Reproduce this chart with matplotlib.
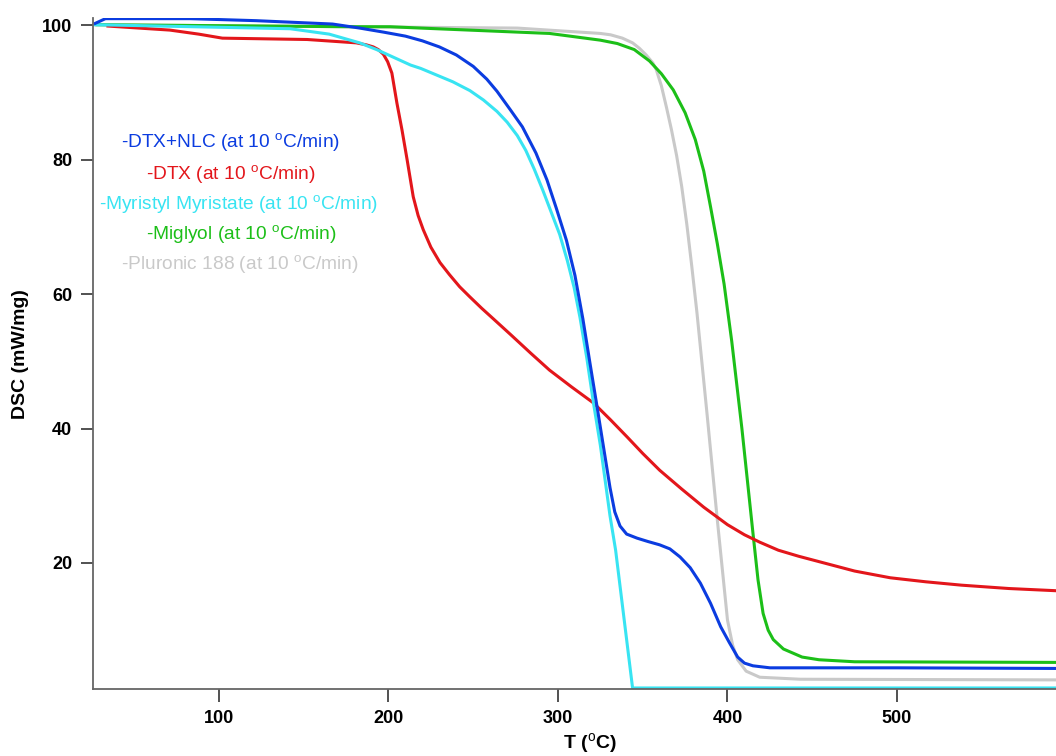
import matplotlib
matplotlib.use('Agg')
import matplotlib.pyplot as plt

plt.rcParams['font.family'] = ['Liberation Sans', 'DejaVu Sans']
plt.rcParams['mathtext.fontset'] = 'custom'
plt.rcParams['mathtext.rm'] = 'Liberation Sans'

# curves (T in degC, signal)
t_nlc = [27, 33, 83, 122, 167, 183, 197, 210, 220, 230, 240, 250, 258, 264, 272, 279,
         287, 293.5, 299, 305, 310, 314.7, 318.7, 322.7, 326.7, 330.7, 333.5, 336.6, 340.5,
         346.6, 353, 360, 366, 372, 378, 384, 390, 396, 401, 406, 410, 415, 425, 500, 600]
v_nlc = [100.3, 101.0, 101.0, 100.7, 100.2, 99.6, 99.0, 98.4, 97.7, 96.8, 95.6, 93.9, 92.0,
         90.2, 87.4, 84.9, 81.0, 77.0, 72.8, 68.0, 62.8, 56.3, 50.0, 43.8, 37.5, 31.2, 27.6,
         25.5, 24.3, 23.7, 23.2, 22.7, 22.1, 20.9, 19.3, 17.0, 14.0, 10.5, 8.2, 6.0, 5.1,
         4.7, 4.4, 4.4, 4.3]

t_dtx = [34.5, 71, 88, 102, 152, 181, 187, 191, 194, 197, 199.5, 202, 205, 208, 211, 214.6,
         217.5, 220.5, 225, 230.4, 236, 242, 248, 255, 262, 272, 284, 295, 308, 321, 331,
         341, 350, 360, 373, 386, 400, 410, 419, 430, 442, 454, 475, 496, 517, 538, 566, 600]
v_dtx = [99.9, 99.3, 98.7, 98.1, 97.9, 97.4, 97.1, 96.8, 96.4, 95.7, 94.6, 92.9, 88.4, 84.4,
         80.0, 74.5, 71.7, 69.6, 67.0, 64.7, 62.9, 61.1, 59.6, 57.9, 56.3, 54.0, 51.2, 48.7,
         46.2, 43.8, 41.3, 38.7, 36.3, 33.8, 31.0, 28.3, 25.7, 24.2, 23.1, 21.9, 21.0, 20.2,
         18.8, 17.8, 17.2, 16.7, 16.2, 15.8]

t_mm = [27, 142, 165, 183, 193, 213, 219, 238, 248, 256, 264, 270, 276, 281, 286, 291, 296,
        301, 305.5, 309.5, 313, 317, 321, 325, 330.7, 334, 344, 450, 600]
v_mm = [100.1, 99.5, 98.7, 97.4, 96.4, 94.1, 93.6, 91.6, 90.3, 88.9, 87.2, 85.6, 83.6, 81.4,
        78.6, 75.5, 72.2, 68.9, 65.0, 61.0, 56.5, 50.5, 43.7, 37.5, 27.0, 21.9, 1.4, 1.4, 1.4]

t_mig = [28, 177, 201, 219, 295, 325, 335, 345, 354, 361, 368, 375, 381, 386, 390, 394, 398,
         402.5, 408.5, 415, 418, 421, 424, 427, 433, 444, 454, 475, 600]
v_mig = [100.1, 99.8, 99.8, 99.6, 98.8, 97.8, 97.3, 96.4, 94.7, 92.8, 90.4, 87.0, 83.0, 78.3,
         73.0, 67.5, 61.5, 53.0, 40.0, 24.5, 17.5, 12.5, 10.0, 8.6, 7.2, 6.0, 5.6, 5.3, 5.2]

t_plu = [27, 276, 325, 331, 338, 344, 348, 352, 356, 358, 361, 364, 367, 370, 373, 376, 379,
         382, 388, 394, 400, 403, 406, 411, 419, 443, 600]
v_plu = [100.1, 99.6, 98.8, 98.6, 98.1, 97.4, 96.6, 95.6, 94.4, 93.4, 91.0, 87.8, 84.4, 80.6,
         76.0, 70.4, 64.0, 57.2, 42.0, 26.4, 11.5, 7.8, 5.6, 3.9, 3.0, 2.7, 2.6]

labels = ['-DTX+NLC (at 10 $^{\\rm o}$C/min)', '-DTX (at 10 $^{\\rm o}$C/min)',
          '-Myristyl Myristate (at 10 $^{\\rm o}$C/min)', '-Miglyol (at 10 $^{\\rm o}$C/min)',
          '-Pluronic 188 (at 10 $^{\\rm o}$C/min)']
colors = ['#0b3ce0', '#e3161b', '#38e4f2', '#1cbf18', '#c9c9c9']

fig = plt.figure(figsize=(10.56, 7.56), dpi=100)
ax = fig.add_axes([0.0881, 0.0882, 0.9119, 0.888])

# draw back to front like the original
ax.plot(t_plu, v_plu, color=colors[4], lw=2.2)
ax.plot(t_mig, v_mig, color=colors[3], lw=2.2)
ax.plot(t_dtx, v_dtx, color=colors[1], lw=2.2)
ax.plot(t_mm, v_mm, color=colors[2], lw=2.2)
ax.plot(t_nlc, v_nlc, color=colors[0], lw=2.2)

ax.set_xlim(25.7, 593.8)
ax.set_ylim(1.2, 101.1)
ax.set_xticks([100, 200, 300, 400, 500])
ax.set_yticks([20, 40, 60, 80, 100])

for s in ['top', 'right']:
    ax.spines[s].set_visible(False)
for s in ['left', 'bottom']:
    ax.spines[s].set_color('#666666')
    ax.spines[s].set_linewidth(1.3)
ax.tick_params(direction='out', length=9, width=1.2, color='#333333',
               labelsize=13, pad=6)
for lab in ax.get_xticklabels() + ax.get_yticklabels():
    lab.set_fontweight('bold')

ax.set_xlabel('T ($^{\\rm o}$C)', fontsize=14, fontweight='bold')
ax.xaxis.set_label_coords(0.516, -0.062)
ax.set_ylabel('DSC (mW/mg)', fontsize=14, fontweight='bold')
ax.yaxis.set_label_coords(-0.067, 0.5)

# coloured labels in place of a legend
lab_x = [230, 231, 238, 241, 240]
lab_y = [148, 180, 210, 240, 270]
for txt, c, x, y in zip(labels, colors, lab_x, lab_y):
    fig.text(x / 1056, 1 - y / 756, txt, color=c, fontsize=13.8,
             ha='center', va='baseline')

fig.savefig('out.png', dpi=100)
